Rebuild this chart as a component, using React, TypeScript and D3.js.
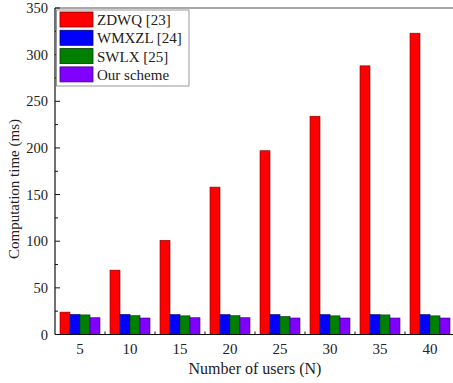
import React from "react";
import * as d3 from "d3";

const categories = ["5", "10", "15", "20", "25", "30", "35", "40"];
const seriesNames = ["ZDWQ [23]", "WMXZL [24]", "SWLX [25]", "Our scheme"];
const zdwq = [24, 69, 101, 158, 197, 234, 288, 323];
const wmxzl = [21.5, 21.5, 21.3, 21.3, 21.3, 21.3, 21.3, 21.3];
const swlx = [21, 20.2, 20, 20.2, 19.3, 20, 21, 20];
const ours = [18, 17.7, 18, 18, 17.7, 17.7, 17.7, 17.7];
const colors = ["#ff0000", "#0000ff", "#008000", "#8000ff"];
const strokes = ["#7a0000", "#00007a", "#003a00", "#3d007a"];
const yTicks = [0, 50, 100, 150, 200, 250, 300, 350];
const yMinor = [25, 75, 125, 175, 225, 275, 325];

const W = 453;
const H = 383;
const M = { left: 55, right: -2, top: 8, bottom: 48.5 };

export default function App() {
  const series = [zdwq, wmxzl, swlx, ours];
  const x0 = d3
    .scaleBand<string>()
    .domain(categories)
    .range([M.left, W - M.right])
    .paddingInner(0.2)
    .paddingOuter(0.1);
  const x1 = d3
    .scaleBand<number>()
    .domain(d3.range(series.length))
    .range([0, x0.bandwidth()]);
  const y = d3.scaleLinear().domain([0, 350]).range([H - M.bottom, M.top]);
  const font = "'Liberation Serif', 'DejaVu Serif', serif";
  const step = x0.step();
  const boundaries = categories.slice(1).map((c) => (x0(c) as number) - (step - x0.bandwidth()) / 2);

  return (
    <svg
      width={W}
      height={H}
      style={{ position: "absolute", left: 0, top: 0, background: "#fff" }}
      fontFamily={font}
    >
      {/* bars */}
      {categories.map((c, i) => (
        <g key={c} transform={`translate(${x0(c)},0)`}>
          {series.map((s, k) => (
            <rect
              key={k}
              x={x1(k)}
              y={y(s[i])}
              width={x1.bandwidth()}
              height={y(0) - y(s[i])}
              fill={colors[k]}
              stroke={strokes[k]}
              strokeWidth={0.6}
            />
          ))}
        </g>
      ))}
      {/* frame */}
      <line x1={M.left} x2={W} y1={M.top} y2={M.top} stroke="#555" strokeWidth={1.2} />
      <line x1={M.left} x2={M.left} y1={M.top} y2={y(0)} stroke="#111" strokeWidth={1.2} />
      <line x1={M.left} x2={W} y1={y(0)} y2={y(0)} stroke="#111" strokeWidth={1.2} />
      {/* y ticks */}
      {yTicks.map((t) => (
        <g key={t}>
          <line x1={M.left} x2={M.left + 5} y1={y(t)} y2={y(t)} stroke="#111" strokeWidth={1} />
          <text
            x={M.left - 7}
            y={y(t)}
            dy="0.35em"
            textAnchor="end"
            fontSize={14.5}
            fill="#222"
          >
            {t}
          </text>
        </g>
      ))}
      {yMinor.map((t) => (
        <line key={t} x1={M.left} x2={M.left + 3} y1={y(t)} y2={y(t)} stroke="#111" strokeWidth={1} />
      ))}
      {/* x minor ticks */}
      {boundaries.map((b, i) => (
        <line key={i} x1={b} x2={b} y1={y(0)} y2={y(0) - 3} stroke="#111" strokeWidth={1} />
      ))}
      {/* x labels */}
      {categories.map((c) => (
        <text
          key={c}
          x={(x0(c) as number) + x0.bandwidth() / 2}
          y={353.5}
          textAnchor="middle"
          fontSize={15}
          fill="#222"
        >
          {c}
        </text>
      ))}
      <text x={(M.left + W + 2) / 2} y={373.5} textAnchor="middle" fontSize={16} fill="#222">
        Number of users (N)
      </text>
      <text
        transform={`translate(19,189) rotate(-90)`}
        textAnchor="middle"
        fontSize={15}
        fill="#222"
      >
        Computation time (ms)
      </text>
      {/* legend */}
      <rect x={56.5} y={10} width={132.5} height={76} fill="#fff" stroke="#999" strokeWidth={1} />
      {seriesNames.map((n, k) => (
        <g key={n} transform={`translate(60,${12 + k * 18.3})`}>
          <rect width={33} height={15} fill={colors[k]} stroke={strokes[k]} strokeWidth={0.8} />
          <text x={37} y={13} fontSize={15} fill="#222">
            {n}
          </text>
        </g>
      ))}
    </svg>
  );
}
